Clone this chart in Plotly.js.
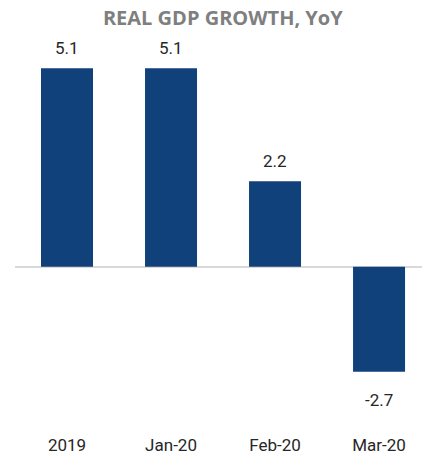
<!DOCTYPE html>
<html>
<head>
<meta charset="utf-8">
<script src="https://cdn.plot.ly/plotly-3.0.1.min.js"></script>
<style>html,body{margin:0;padding:0;background:#fff;}#chart{width:422px;height:454px;}</style>
</head>
<body>
<div id="chart"></div>
<script>
const categories = ["2019", "Jan-20", "Feb-20", "Mar-20"];
const growth = [5.1, 5.1, 2.2, -2.7];
const labels = ["5.1", "5.1", "2.2", "-2.7"];

const annotations = categories.map((c, i) => ({
  x: i, y: growth[i], text: labels[i], showarrow: false,
  xref: 'x', yref: 'y',
  yanchor: growth[i] >= 0 ? 'bottom' : 'top',
  yshift: growth[i] >= 0 ? 8 : -16,
  font: {family: 'Roboto, sans-serif', size: 17, color: '#262626'}
}));

Plotly.newPlot('chart', [{
  type: 'bar', x: categories, y: growth, width: 0.5,
  marker: {color: '#10417b'}, hoverinfo: 'none'
}], {
  width: 422, height: 454,
  margin: {l: 15, r: 0, t: 40, b: 45},
  paper_bgcolor: '#fff', plot_bgcolor: '#fff',
  title: {text: 'REAL GDP GROWTH, YoY', x: 0.528, xanchor: 'center', y: 0.976, yanchor: 'top',
    font: {family: '"Open Sans", sans-serif', size: 20, color: '#7f7f7f', weight: 'bold'}},
  xaxis: {type: 'category', range: [-0.5, 3.413], showgrid: false, showline: false, zeroline: false,
    ticks: 'outside', ticklen: 21, tickcolor: 'rgba(0,0,0,0)',
    tickfont: {family: 'Roboto, sans-serif', size: 17, color: '#262626'}},
  yaxis: {range: [-3.658, 5.828], showgrid: false, showticklabels: false, zeroline: true,
    zerolinecolor: '#d9d9d9', zerolinewidth: 2, showline: false},
  annotations: annotations,
  showlegend: false
}, {displayModeBar: false, staticPlot: true});
</script>
</body>
</html>
